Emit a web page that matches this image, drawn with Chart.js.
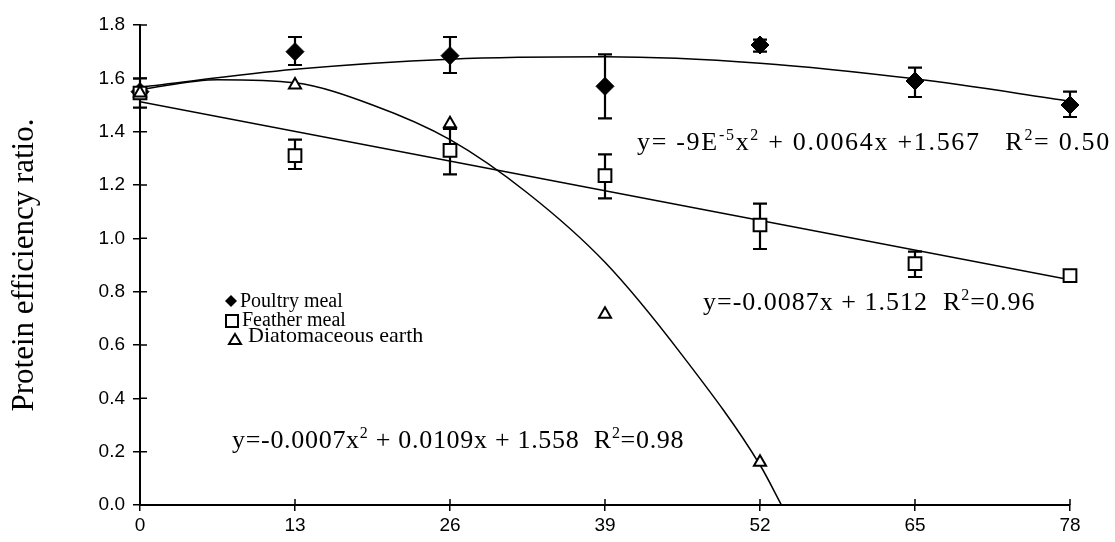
<!DOCTYPE html>
<html>
<head>
<meta charset="utf-8">
<script src="https://cdn.jsdelivr.net/npm/chart.js@4"></script>
<style>
html, body { margin: 0; padding: 0; background: #fff; }
#wrap { width: 1115px; height: 542px; }
</style>
</head>
<body>
<div id="wrap"><canvas id="chart" width="1115" height="542"></canvas></div>
<script>
'use strict'

//주차 (x축)
const weeks = [0, 13, 26, 39, 52, 65, 78];
//Poultry meal
const poultryMeal = [1.55, 1.70, 1.685, 1.57, 1.725, 1.59, 1.50];
const poultryHigh = [1.55, 1.755, 1.755, 1.69, 1.745, 1.64, 1.55];
const poultryLow = [1.55, 1.65, 1.62, 1.45, 1.70, 1.53, 1.455];
//Feather meal
const featherMeal = [1.545, 1.31, 1.33, 1.235, 1.05, 0.905, 0.86];
const featherHigh = [1.60, 1.37, 1.41, 1.315, 1.13, 0.95, 0.86];
const featherLow = [1.49, 1.26, 1.24, 1.15, 0.96, 0.855, 0.86];
//Diatomaceous earth
const diatomEarth = [1.545, 1.575, 1.43, 0.715, 0.16];
const diatomWeeks = [0, 13, 26, 39, 52];

//추세선
const poultryFitX = [0, 13, 26, 39, 52, 65, 78];
const poultryFitY = [1.567, 1.634, 1.672, 1.681, 1.657, 1.598, 1.515];
const featherFitX = [0, 78];
const featherFitY = [1.512, 0.845];
const diatomFitX = [0, 6.5, 13, 19.5, 26, 32.5, 39, 45.5, 52, 53.8];
const diatomFitY = [1.558, 1.595, 1.583, 1.50, 1.37, 1.17, 0.91, 0.56, 0.15, 0.0];

//축 눈금
const yTicks = [0, 0.2, 0.4, 0.6, 0.8, 1.0, 1.2, 1.4, 1.6, 1.8];
const yTitle = 'Protein efficiency ratio.';
const legendNames = ['Poultry meal', 'Feather meal', 'Diatomaceous earth'];

//식 (텍스트, 위첨자 여부)
const eqPoultry = [['y= -9E', 0], ['-5', 1], ['x', 0], ['2', 1], [' + 0.0064x +1.567   R', 0], ['2', 1], ['= 0.50', 0]];
const eqFeather = [['y=-0.0087x + 1.512  R', 0], ['2', 1], ['=0.96', 0]];
const eqDiatom = [['y=-0.0007x', 0], ['2', 1], [' + 0.0109x + 1.558  R', 0], ['2', 1], ['=0.98', 0]];

// =====================================================================================================

function toPoints(xs, ys){
	return xs.map((x, i) => ({x: x, y: ys[i]}));
}

const SERIF = '"Liberation Serif", "Times New Roman", serif';
const SANS = '"Liberation Sans", Arial, sans-serif';

//에러바
const errorBars = {
	id: 'errorBars',
	beforeDatasetsDraw(chart){
		const ctx = chart.ctx;
		const xs = chart.scales.x;
		const ys = chart.scales.y;
		const sets = [[poultryHigh, poultryLow], [featherHigh, featherLow]];
		ctx.save();
		ctx.strokeStyle = '#000';
		ctx.lineWidth = 2.2;
		sets.forEach((s) => {
			weeks.forEach((w, i) => {
				if(s[0][i] == s[1][i]) return;
				const px = xs.getPixelForValue(w);
				const top = ys.getPixelForValue(s[0][i]);
				const bot = ys.getPixelForValue(s[1][i]);
				ctx.beginPath();
				ctx.moveTo(px, top); ctx.lineTo(px, bot);
				ctx.moveTo(px - 7, top); ctx.lineTo(px + 7, top);
				ctx.moveTo(px - 7, bot); ctx.lineTo(px + 7, bot);
				ctx.stroke();
			});
		});
		ctx.restore();
	}
};

//식, 범례, 안쪽 눈금
function drawParts(ctx, parts, x, y, size, spacing){
	let cx = x;
	ctx.letterSpacing = spacing + 'px';
	parts.forEach((p) => {
		const fs = p[1] ? Math.round(size * 0.6) : size;
		ctx.font = fs + 'px ' + SERIF;
		ctx.fillText(p[0], cx, p[1] ? y - size * 0.38 : y);
		cx += ctx.measureText(p[0]).width;
	});
	ctx.letterSpacing = '0px';
}

const annotations = {
	id: 'annotations',
	afterDraw(chart){
		const ctx = chart.ctx;
		const xs = chart.scales.x;
		const ys = chart.scales.y;
		ctx.save();
		ctx.strokeStyle = '#000';
		ctx.lineWidth = 1.5;
		//안쪽으로 튀어나온 눈금
		ctx.beginPath();
		yTicks.forEach((v) => {
			const py = ys.getPixelForValue(v);
			ctx.moveTo(xs.left, py); ctx.lineTo(xs.left + 7, py);
		});
		weeks.forEach((w) => {
			const px = xs.getPixelForValue(w);
			ctx.moveTo(px, ys.bottom); ctx.lineTo(px, ys.bottom - 6);
		});
		ctx.stroke();

		ctx.fillStyle = '#000';
		ctx.textBaseline = 'alphabetic';
		drawParts(ctx, eqPoultry, 637, 150, 26, 1.7);
		drawParts(ctx, eqFeather, 703, 310, 26, 1);
		drawParts(ctx, eqDiatom, 232, 448, 26, 0.7);

		//범례
		ctx.lineWidth = 2;
		ctx.beginPath();
		ctx.moveTo(231, 295); ctx.lineTo(237, 301); ctx.lineTo(231, 307); ctx.lineTo(225, 301); ctx.closePath();
		ctx.fill();
		ctx.strokeRect(226, 315, 12, 12);
		ctx.beginPath();
		ctx.moveTo(235, 334); ctx.lineTo(241, 344); ctx.lineTo(229, 344); ctx.closePath();
		ctx.stroke();
		ctx.font = '20px ' + SERIF;
		ctx.fillText(legendNames[0], 240, 307);
		ctx.fillText(legendNames[1], 242, 326);
		ctx.font = '22px ' + SERIF;
		ctx.fillText(legendNames[2], 248, 342);
		ctx.restore();
	}
};

const lineStyle = {
	showLine: true,
	borderColor: '#000',
	borderWidth: 1.5,
	pointRadius: 0,
	fill: false,
	cubicInterpolationMode: 'monotone'
};

new Chart(document.getElementById('chart'), {
	type: 'scatter',
	data: {
		datasets: [
			{
				label: legendNames[2],
				data: toPoints(diatomWeeks, diatomEarth),
				pointStyle: 'triangle',
				pointRadius: 7,
				pointBackgroundColor: '#fff',
				pointBorderColor: '#000',
				pointBorderWidth: 2,
				clip: false
			},
			{
				label: legendNames[1],
				data: toPoints(weeks, featherMeal),
				pointStyle: 'rect',
				pointRadius: 9,
				pointBackgroundColor: '#fff',
				pointBorderColor: '#000',
				pointBorderWidth: 2,
				clip: false
			},
			{
				label: legendNames[0],
				data: toPoints(weeks, poultryMeal),
				pointStyle: 'rectRot',
				pointRadius: 9,
				pointBackgroundColor: '#000',
				pointBorderColor: '#000',
				pointBorderWidth: 1,
				clip: false
			},
			Object.assign({label: 'fit1', data: toPoints(poultryFitX, poultryFitY)}, lineStyle),
			Object.assign({label: 'fit2', data: toPoints(featherFitX, featherFitY)}, lineStyle),
			Object.assign({label: 'fit3', data: toPoints(diatomFitX, diatomFitY)}, lineStyle)
		]
	},
	options: {
		responsive: false,
		animation: false,
		layout: { padding: { top: 25, right: 45, left: 0, bottom: 0 } },
		plugins: {
			legend: { display: false },
			tooltip: { enabled: false }
		},
		scales: {
			x: {
				type: 'linear',
				min: 0,
				max: 78,
				afterBuildTicks: (scale) => { scale.ticks = weeks.map((v) => ({value: v})); },
				afterFit: (scale) => { scale.height = 37; },
				border: { color: '#000', width: 2 },
				grid: { drawOnChartArea: false, color: '#000', lineWidth: 1.5, tickLength: 6 },
				ticks: { color: '#000', font: { family: SANS, size: 19 }, padding: 3, maxRotation: 0 }
			},
			y: {
				min: 0,
				max: 1.8,
				afterBuildTicks: (scale) => { scale.ticks = yTicks.map((v) => ({value: v})); },
				afterFit: (scale) => { scale.width = 140; },
				border: { color: '#000', width: 2 },
				grid: { drawOnChartArea: false, color: '#000', lineWidth: 1.5, tickLength: 7 },
				ticks: { color: '#000', font: { family: SANS, size: 19 }, padding: 8, callback: (v) => v.toFixed(1) },
				title: { display: true, text: yTitle, color: '#000', font: { family: SERIF, size: 31 }, padding: { top: 6, bottom: 0 } }
			}
		}
	},
	plugins: [errorBars, annotations]
});
</script>
</body>
</html>
